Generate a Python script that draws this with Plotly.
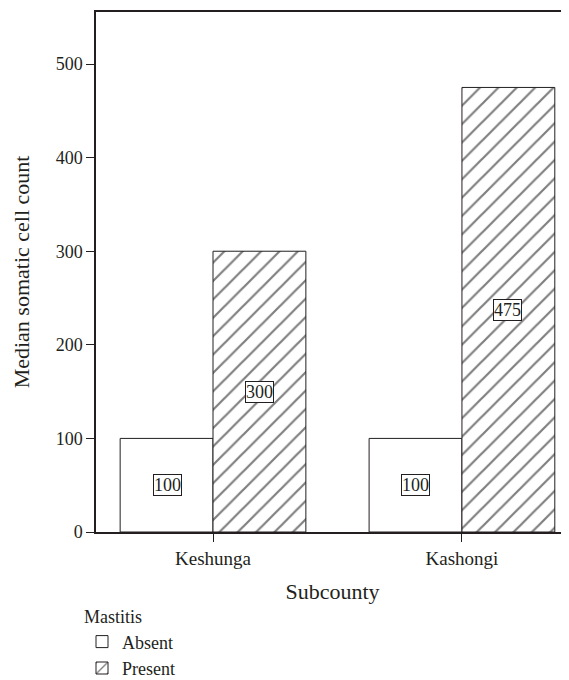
import plotly.graph_objects as go

categories = ["Keshunga", "Kashongi"]
absent_values = [100, 100]
present_values = [300, 475]
series_names = ["Absent", "Present"]
y_ticks = [0, 100, 200, 300, 400, 500]

INK = "#231f20"
FONT = "Liberation Serif"
FS = 18
BW = 0.373

# the page body has an 8px margin; size the figure to the visible area
OFF = 8
W, H = 569 - OFF, 680 - OFF
L, R, T, B = 96 - OFF, 0, 12 - OFF, 680 - 532
PW, PH = W - L - R, H - T - B

fig = go.Figure()
fig.add_trace(go.Bar(
    name=series_names[0], x=categories, y=absent_values,
    width=BW, offset=-BW,
    marker=dict(color="white", line=dict(color=INK, width=1)),
))
fig.add_trace(go.Bar(
    name=series_names[1], x=categories, y=present_values,
    width=BW, offset=0,
    marker=dict(color="white", line=dict(color=INK, width=1),
                pattern=dict(shape="/", fgcolor="#000000", bgcolor="white", size=13, solidity=0.17)),
))

for cat, a, p in zip(categories, absent_values, present_values):
    for val, shift in ((a, -46), (p, 46)):
        fig.add_annotation(x=cat, y=val / 2, xref="x", yref="y", xshift=shift,
                           text=str(val), showarrow=False,
                           font=dict(family=FONT, size=FS, color=INK),
                           bgcolor="white", bordercolor=INK, borderwidth=1, borderpad=0)

fig.update_layout(
    width=W, height=H,
    margin=dict(l=L, r=R, t=T, b=B, autoexpand=False),
    plot_bgcolor="white", paper_bgcolor="white",
    font=dict(family=FONT, size=FS, color=INK),
    barmode="overlay",
    showlegend=True,
    legend=dict(
        title=dict(text="Mastitis", font=dict(family=FONT, size=FS, color=INK)),
        x=(82 - 96) / PW, y=-(600 - 532) / PH, xanchor="left", yanchor="top",
        font=dict(family=FONT, size=FS, color=INK),
        itemwidth=30, tracegroupgap=0,
        bgcolor="rgba(0,0,0,0)",
    ),
    xaxis=dict(
        range=[-0.47, 1.43],
        showline=True, linecolor=INK, linewidth=1.5, mirror=True,
        ticks="outside", ticklen=8, tickcolor=INK,
        tickfont=dict(family=FONT, size=19, color=INK),
        showgrid=False, zeroline=False, automargin=False,
        title=dict(text="Subcounty", standoff=16),
    ),
    yaxis=dict(
        range=[0, 555.6],
        tickvals=y_ticks,
        showline=True, linecolor=INK, linewidth=1.5,
        ticks="outside", ticklen=8, tickcolor=INK,
        showgrid=False, zeroline=False, automargin=False,
        title=dict(text="Median somatic cell count", standoff=20),
    ),
)

fig.write_html("out.html")
